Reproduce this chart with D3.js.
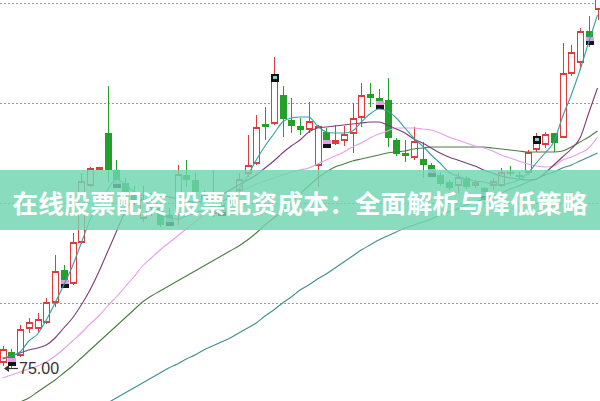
<!DOCTYPE html>
<html><head><meta charset="utf-8">
<script src="https://cdn.jsdelivr.net/npm/d3@7"></script>
<style>html,body{margin:0;padding:0;background:#fff;overflow:hidden}</style>
</head><body><svg id="c" width="600" height="401"></svg>
<script>
const categories = d3.range(69).map(i => "D" + (i + 1));
const opens  = [75.6,76.6,76.3,79.0,79.0,79.6,81.6,84.8,83.5,87.6,93.3,94.9,98.5,94.8,93.5,92.6,90.0,91.3,91.0,90.3,90.3,94.3,93.8,92.3,90.5,91.3,92.2,92.8,94.5,95.5,99.4,99.5,102.3,99.8,99.2,98.9,95.3,98.6,97.5,97.8,98.5,100.1,102.4,102.0,101.8,97.8,96.5,96.1,95.9,95.3,94.3,93.6,93.3,94.0,93.3,93.0,93.3,93.3,94.6,94.3,94.6,96.9,97.4,98.5,98.1,104.5,105.6,108.7,110.9];
const highs  = [77.2,76.9,79.3,80.0,80.5,82.0,86.3,85.3,88.5,94.5,95.1,95.1,103.2,95.8,94.0,93.2,93.2,91.8,91.2,91.0,95.3,95.8,94.5,92.8,94.8,91.8,92.6,94.5,98.3,100.3,101.1,106.1,103.2,102.0,100.0,101.6,99.3,99.0,99.3,99.2,101.5,103.5,103.5,102.9,104.0,98.0,97.8,99.1,97.6,95.5,94.6,93.8,94.5,94.2,93.8,93.1,94.0,95.0,95.2,94.6,96.8,98.5,98.6,98.5,107.5,107.3,109.0,110.2,112.8];
const lows   = [75.2,75.0,76.1,78.5,78.5,79.4,81.1,83.1,83.3,87.4,93.1,94.8,93.6,93.5,92.1,91.3,89.6,90.2,89.1,89.4,89.3,93.1,92.3,91.3,90.1,90.6,91.2,92.3,94.1,95.3,97.8,99.3,98.1,98.5,98.3,98.5,93.1,97.1,97.3,97.2,96.5,99.1,101.1,101.0,97.1,96.2,95.6,95.8,94.0,94.1,93.2,92.8,92.5,92.9,93.0,92.0,92.8,93.1,94.2,93.9,94.3,96.6,97.0,96.6,98.0,104.2,104.8,107.1,109.8];
const closes = [76.8,76.0,78.8,79.5,79.8,81.5,84.6,83.8,87.5,93.6,94.9,95.0,94.8,93.8,92.6,91.8,91.8,91.0,89.3,90.0,94.3,93.8,92.6,91.8,90.6,91.0,91.7,93.8,95.2,99.0,99.1,103.8,99.9,99.2,98.8,99.6,99.1,97.8,97.7,98.3,99.9,102.2,102.0,101.7,98.0,96.4,96.2,97.6,95.3,94.9,93.4,93.0,94.0,93.1,93.5,92.6,93.6,94.5,94.4,94.1,96.5,97.6,98.3,97.5,104.4,106.5,108.6,108.1,112.6];

const ma5  = [76.0,76.2,76.6,77.7,78.4,79.8,81.5,83.3,85.2,87.5,89.8,91.5,92.8,93.9,93.4,92.6,91.9,91.1,90.4,90.0,89.9,90.2,90.5,90.8,91.2,91.6,92.1,92.9,94.2,95.8,97.2,98.4,99.6,100.0,100.1,100.1,99.2,98.6,98.5,98.5,98.7,99.6,100.4,100.9,100.7,100.0,99.0,98.0,97.2,96.3,95.5,94.6,94.2,93.9,93.7,93.6,93.4,93.3,93.5,93.8,94.4,95.5,96.5,97.6,100.1,102.3,104.8,107.6,110.3];
const ma10 = [75.9,76.2,76.5,76.8,77.0,77.3,78.0,79.0,80.0,81.3,82.8,84.6,86.6,88.6,90.6,91.8,92.3,92.4,92.3,92.1,91.9,91.7,91.6,91.7,91.9,92.3,92.8,93.3,93.8,94.3,95.0,95.7,96.5,97.2,97.8,98.6,99.0,99.1,99.2,99.3,99.4,99.5,99.6,99.6,99.3,98.9,98.5,97.9,97.5,97.0,96.5,96.1,95.8,95.5,95.2,94.8,94.5,94.2,94.0,93.9,93.8,93.9,94.5,95.3,96.1,96.9,98.0,100.5,103.0];
const ma20 = [74.0,74.3,74.6,74.9,75.2,75.6,76.2,76.9,77.7,78.5,79.4,80.2,81.2,82.1,83.1,84.1,85.2,86.0,86.8,87.5,88.2,88.9,89.6,90.3,91.0,91.6,92.1,92.6,93.0,93.4,93.7,94.0,94.3,94.6,94.8,95.0,95.4,95.8,96.2,96.6,97.1,97.5,98.0,98.4,98.7,99.0,99.0,99.0,98.9,98.8,98.5,98.1,97.8,97.5,97.2,97.0,96.7,96.3,96.0,95.7,95.4,95.2,95.1,95.2,95.8,96.1,96.5,97.0,98.1];
const ma30 = [70.6,71.2,71.6,72.0,72.6,73.2,73.8,74.5,75.2,76.0,76.8,77.6,78.4,79.2,80.0,80.8,81.6,82.2,82.7,83.2,83.7,84.2,84.7,85.2,85.7,86.2,86.7,87.2,87.8,88.5,89.3,90.0,90.7,91.5,92.4,93.2,94.0,94.6,95.1,95.4,95.7,95.9,96.1,96.3,96.5,96.6,96.7,96.9,97.0,97.1,97.1,97.1,97.1,97.1,97.1,97.1,97.0,96.9,96.8,96.7,96.6,96.6,96.6,96.6,96.7,97.1,97.6,98.1,98.7];
const ma60 = [null,null,null,null,null,null,null,null,null,null,70.5,71.0,71.5,72.0,72.5,73.0,73.5,74.0,74.5,75.0,75.4,75.9,76.3,76.8,77.2,77.6,78.0,78.5,79.0,79.5,80.2,80.8,81.5,82.1,82.8,83.3,83.9,84.4,85.0,85.6,86.2,86.8,87.3,87.8,88.2,88.6,89.0,89.3,89.6,89.9,90.3,90.6,90.9,91.3,91.6,91.9,92.2,92.5,92.9,93.2,93.6,93.9,94.3,94.6,95.0,95.3,95.7,96.1,96.5];

const gridValues = [81.5, 91.5, 101.5, 111.5];
const markerIdx = [1, 7, 13, 19, 25, 31, 37, 43, 49, 55, 61, 67];
const darkMarkerIdx = [31, 61];
const minValue = 75.0;
const minLabel = "75.00";
const bannerText = "在线股票配资 股票配资成本：全面解析与降低策略";

const svg = d3.select("#c");
const x = d3.scalePoint().domain(categories).range([2.5, 597.5]);
const y = d3.scaleLinear().domain([75, 111.8]).range([368, 0]);

// grid
const grid = svg.append("g").attr("transform", "translate(0,0)")
  .call(d3.axisRight(y).tickValues(gridValues).tickSize(600).tickFormat(""));
grid.select(".domain").remove();
grid.selectAll(".tick line").attr("stroke", "#9a9a9a").attr("stroke-dasharray", "2,2")
  .attr("stroke-width", 1);
grid.selectAll(".tick").attr("transform", d => `translate(0,${Math.round(y(d)) + 0.5})`);

const RED = "#dc3c3c", GREEN = "#22a02a";
const candles = categories.map((c, i) => ({c, i, o: opens[i], h: highs[i], l: lows[i], cl: closes[i]}));
const cg = svg.append("g").attr("shape-rendering", "crispEdges");
candles.forEach(d => {
  const cx = Math.round(x(d.c));
  const up = d.cl >= d.o;
  const top = y(Math.max(d.o, d.cl)), bot = y(Math.min(d.o, d.cl));
  const col = up ? RED : GREEN;
  if (up) {
    cg.append("line").attr("x1", cx + 0.5).attr("x2", cx + 0.5).attr("y1", y(d.h)).attr("y2", top).attr("stroke", col);
    cg.append("line").attr("x1", cx + 0.5).attr("x2", cx + 0.5).attr("y1", bot).attr("y2", y(d.l)).attr("stroke", col);
    cg.append("rect").attr("x", cx - 2.5).attr("y", top).attr("width", 6).attr("height", Math.max(1, bot - top))
      .attr("fill", "#fff").attr("stroke", col).attr("stroke-width", 1.2);
  } else {
    cg.append("line").attr("x1", cx + 0.5).attr("x2", cx + 0.5).attr("y1", y(d.h)).attr("y2", y(d.l)).attr("stroke", col);
    cg.append("rect").attr("x", cx - 3).attr("y", top).attr("width", 7).attr("height", Math.max(1.5, bot - top))
      .attr("fill", col);
  }
});

// markers
const mg = svg.append("g").attr("shape-rendering", "crispEdges");
markerIdx.forEach(i => {
  const cx = Math.round(x(categories[i]));
  const up = closes[i] >= opens[i];
  const yc = y(closes[i]);
  const top = up ? yc - 6 : yc;
  if (darkMarkerIdx.includes(i)) {
    mg.append("rect").attr("x", cx - 3).attr("y", top).attr("width", 8).attr("height", 8).attr("fill", "#111");
    mg.append("rect").attr("x", cx - 1).attr("y", top + 2).attr("width", 4).attr("height", 3).attr("fill", "#7fd3cf");
  } else {
    mg.append("rect").attr("x", cx - 3).attr("y", top).attr("width", 8).attr("height", 4).attr("fill", "#e59ee5");
    mg.append("rect").attr("x", cx - 3).attr("y", top + 4).attr("width", 8).attr("height", 4).attr("fill", "#141414");
  }
});

// moving averages
const maDefs = [
  {vals: ma60, color: "#3f8f8c"},
  {vals: ma30, color: "#4b7d45"},
  {vals: ma20, color: "#e59ee8"},
  {vals: ma10, color: "#7a3d78"},
  {vals: ma5,  color: "#35a0a8"}
];
const line = d3.line().defined(d => d.v != null).x(d => x(categories[d.i])).y(d => y(d.v)).curve(d3.curveMonotoneX);
maDefs.forEach(m => {
  svg.append("path").datum(m.vals.map((v, i) => ({i, v})))
    .attr("d", line).attr("fill", "none").attr("stroke", m.color).attr("stroke-width", 1.1);
});

// min label
const ym = Math.round(y(minValue)) + 0.5;
svg.append("line").attr("x1", 5).attr("x2", 18).attr("y1", ym).attr("y2", ym).attr("stroke", "#333").attr("stroke-width", 1.2);
svg.append("path").attr("d", `M4,${ym} L9,${ym - 3.5} L9,${ym + 3.5} Z`).attr("fill", "#333");
svg.append("text").attr("x", 19).attr("y", ym).attr("dy", "0.36em")
  .attr("font-family", "Liberation Sans, Arial, sans-serif").attr("font-size", 16).attr("fill", "#333")
  .text(minLabel);

// banner
svg.append("rect").attr("x", 0).attr("y", 170).attr("width", 600).attr("height", 60)
  .attr("fill", "#6fd6b0").attr("opacity", 0.82);
svg.append("text").attr("x", 300).attr("y", 201).attr("text-anchor", "middle").attr("dominant-baseline", "central")
  .attr("font-family", "Noto Sans CJK SC, sans-serif").attr("font-weight", "bold").attr("font-size", 25.5)
  .attr("fill", "#fff").attr("textLength", 575).attr("lengthAdjust", "spacing")
  .text(bannerText);
</script></body></html>
